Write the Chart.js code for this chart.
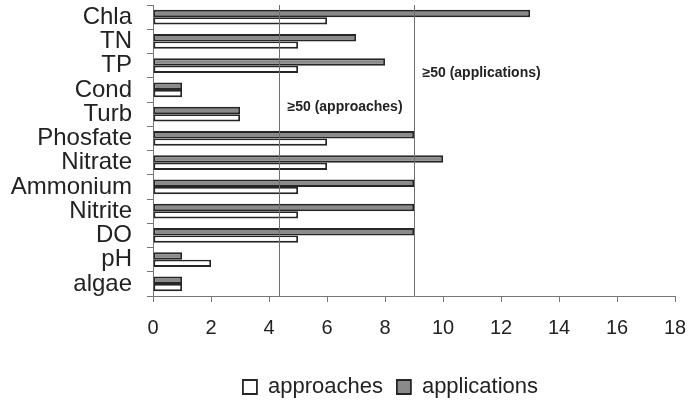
<!DOCTYPE html>
<html>
<head>
<meta charset="utf-8">
<script src="https://cdn.jsdelivr.net/npm/chart.js@4"></script>
<style>
  html, body { margin: 0; padding: 0; background: #fff; }
  #wrap { width: 689px; height: 400px; }
</style>
</head>
<body>
<div id="wrap"><canvas id="chart"></canvas></div>
<script>
const categories = ['Chla', 'TN', 'TP', 'Cond', 'Turb', 'Phosfate', 'Nitrate', 'Ammonium', 'Nitrite', 'DO', 'pH', 'algae'];
const applications = [13, 7, 8, 1, 3, 9, 10, 9, 9, 9, 1, 1];
const approaches = [6, 5, 5, 1, 3, 6, 6, 5, 5, 5, 2, 1];
const xTicks = [0, 2, 4, 6, 8, 10, 12, 14, 16, 18];

// threshold lines: value, label, category position of the label
const thresholdValues = [4.35, 9];
const thresholdLabels = ['\u226550 (approaches)', '\u226550 (applications)'];
const thresholdLabelPos = [3.7, 2.3];

const ctx = document.getElementById('chart').getContext('2d');

const thresholdPlugin = {
    id: 'thresholds',
    afterLayout(chart) {
        // legend sits a bit right of centre and low in the original
        const lg = chart.legend;
        lg.left += 53; lg.right += 53;
        lg.top += 8; lg.bottom += 8;
        if (lg.adjustHitBoxes) lg.adjustHitBoxes();
    },
    afterDatasetsDraw(chart) {
        const c = chart.ctx;
        const area = chart.chartArea;
        const x = chart.scales.x;
        const y = chart.scales.y;
        c.save();
        thresholdValues.forEach((v, i) => {
            const px = Math.round(x.getPixelForValue(v)) + 0.5;
            c.strokeStyle = '#6e6e6e';
            c.lineWidth = 1;
            c.beginPath();
            c.moveTo(px, area.top);
            c.lineTo(px, area.bottom);
            c.stroke();
            c.fillStyle = '#222';
            c.font = 'bold 14px "Liberation Sans", Arial, sans-serif';
            c.textBaseline = 'middle';
            c.textAlign = 'left';
            c.fillText(thresholdLabels[i], px + 8, y.getPixelForValue(thresholdLabelPos[i]));
        });
        c.restore();
    }
};

const chart = new Chart(ctx, {
    type: 'bar',
    data: {
        labels: categories,
        datasets: [{
            label: 'applications',
            data: applications,
            backgroundColor: '#8a8a8a',
            borderColor: '#262626',
            borderWidth: 1.8,
            borderSkipped: false
        }, {
            label: 'approaches',
            data: approaches,
            backgroundColor: '#ffffff',
            borderColor: '#262626',
            borderWidth: 1.8,
            borderSkipped: false
        }]
    },
    options: {
        indexAxis: 'y',
        responsive: true,
        maintainAspectRatio: false,
        animation: false,
        categoryPercentage: 0.6,
        barPercentage: 1.0,
        layout: {
            padding: { left: 0, right: 14, top: 5, bottom: 0 }
        },
        plugins: {
            tooltip: { enabled: false },
            legend: {
                position: 'bottom',
                reverse: true,
                labels: {
                    boxWidth: 14,
                    boxHeight: 14,
                    padding: 14,
                    color: '#222',
                    font: { family: '"Liberation Sans", Arial, sans-serif', size: 22 }
                }
            }
        },
        scales: {
            x: {
                min: 0,
                max: 18,
                afterBuildTicks: (scale) => {
                    scale.ticks = xTicks.map(v => ({ value: v }));
                },
                afterFit: (scale) => {
                    scale.height = 58;
                    scale.paddingLeft = 0;
                    scale.paddingRight = 0;
                },
                grid: {
                    drawOnChartArea: false,
                    drawTicks: true,
                    tickLength: 6,
                    color: '#777'
                },
                border: { color: '#777', width: 1 },
                ticks: {
                    padding: 14,
                    color: '#222',
                    font: { family: '"Liberation Sans", Arial, sans-serif', size: 20 }
                }
            },
            y: {
                afterFit: (scale) => {
                    scale.width = 153;
                    scale.paddingTop = 0;
                    scale.paddingBottom = 0;
                },
                grid: {
                    drawOnChartArea: false,
                    drawTicks: true,
                    tickLength: 6,
                    offset: true,
                    color: '#777'
                },
                border: { color: '#777', width: 1 },
                ticks: {
                    padding: 15,
                    color: '#222',
                    autoSkip: false,
                    font: { family: '"Liberation Sans", Arial, sans-serif', size: 24 }
                }
            }
        }
    },
    plugins: [thresholdPlugin]
});
</script>
</body>
</html>
